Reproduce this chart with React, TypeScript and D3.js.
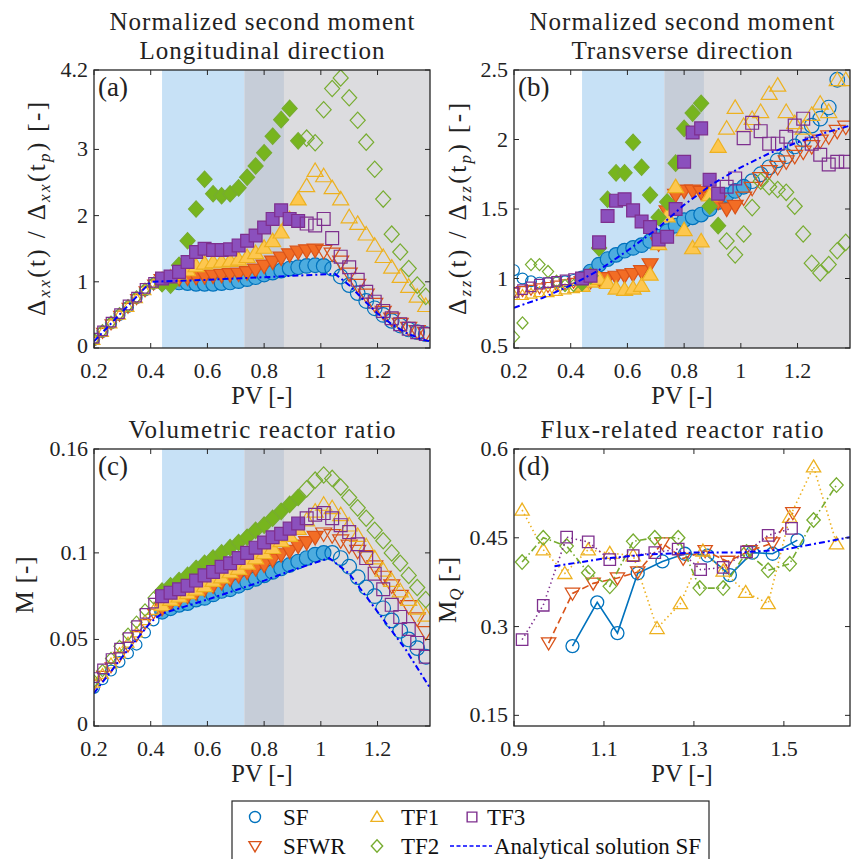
import React from "react";
import * as d3 from "d3";

const FONT = '"Liberation Serif", "Times New Roman", serif';

// pore volumes sampled in panels (a)-(c)
const PV = [0.2, 0.23, 0.26, 0.29, 0.32, 0.35, 0.38, 0.41, 0.44, 0.47, 0.5, 0.53, 0.56, 0.59, 0.62, 0.65, 0.68, 0.71, 0.74, 0.77, 0.8, 0.83, 0.86, 0.89, 0.92, 0.95, 0.98, 1.01, 1.04, 1.07, 1.1, 1.13, 1.16, 1.19, 1.22, 1.25, 1.28, 1.31, 1.34, 1.37];

// (a) longitudinal second moment
const A_SF = [0.12, 0.24, 0.37, 0.5, 0.62, 0.75, 0.87, 0.97, 1.0, 1.0, 0.99, 0.98, 0.97, 0.97, 0.97, 0.98, 0.99, 1.01, 1.04, 1.07, 1.11, 1.14, 1.17, 1.2, 1.22, 1.24, 1.25, 1.24, 1.2, 1.08, 0.95, 0.83, 0.71, 0.6, 0.5, 0.41, 0.34, 0.28, 0.24, 0.21];
const A_SFWR = [0.1, 0.23, 0.36, 0.49, 0.61, 0.74, 0.86, 0.96, 1.02, 1.04, 1.05, 1.06, 1.07, 1.08, 1.09, 1.1, 1.11, 1.12, 1.14, 1.18, 1.24, 1.3, 1.36, 1.41, 1.45, 1.47, 1.48, 1.46, 1.42, 1.3, 1.12, 0.95, 0.8, 0.66, 0.54, 0.44, 0.36, 0.3, 0.25, 0.22];
const A_TF1 = [0.12, 0.24, 0.37, 0.5, 0.62, 0.75, 0.87, 0.97, 1.03, 1.07, 1.12, 1.18, 1.24, 1.28, 1.3, 1.31, 1.32, 1.34, 1.38, 1.44, 1.52, 1.62, 1.75, 1.95, 2.25, 2.45, 2.68, 2.6, 2.42, 2.25, 1.98, 1.88, 1.72, 1.55, 1.38, 1.22, 1.08, 0.93, 0.78, 0.64];
const A_TF2 = [0.13, 0.26, 0.39, 0.52, 0.64, 0.77, 0.89, 0.98, 0.97, 0.95, 1.25, 1.62, 2.1, 2.55, 2.33, 2.3, 2.33, 2.42, 2.58, 2.75, 2.95, 3.2, 3.45, 3.62, 3.13, 3.17, 3.1, 3.6, 3.92, 4.08, 3.78, 3.44, 3.11, 2.7, 2.25, 1.72, 1.45, 1.2, 0.95, 0.78];
const A_TF3 = [0.15, 0.26, 0.39, 0.52, 0.65, 0.77, 0.9, 0.99, 1.05, 1.08, 1.15, 1.3, 1.45, 1.5, 1.48, 1.48, 1.49, 1.55, 1.62, 1.7, 1.82, 1.95, 2.08, 1.95, 1.92, 1.88, 1.85, 1.95, 1.66, 1.38, 1.22, 1.03, 0.85, 0.7, 0.56, 0.45, 0.36, 0.29, 0.24, 0.21];
const A_ANA_X = [0.2, 0.4, 0.6, 0.8, 1.05, 1.1, 1.15, 1.2, 1.25, 1.3, 1.35, 1.385];
const A_ANA_Y = [0.1, 1.0, 1.03, 1.07, 1.12, 0.95, 0.73, 0.52, 0.36, 0.23, 0.14, 0.1];

// (b) transverse second moment
const B_SF = [1.06, 1.0, 0.98, 0.97, 0.97, 0.97, 0.98, 0.99, 1.0, 1.05, 1.1, 1.14, 1.17, 1.2, 1.22, 1.24, 1.27, 1.3, 1.34, 1.38, 1.42, 1.44, 1.46, 1.5, 1.55, 1.6, 1.63, 1.66, 1.7, 1.75, 1.8, 1.85, 1.88, 1.95, 2.0, 2.1, 2.15, 2.23, 2.43, null];
const B_SFWR = [0.9, 0.91, 0.92, 0.93, 0.94, 0.95, 0.96, 0.97, 0.97, 0.98, 0.99, 1.0, 1.01, 1.02, 1.03, 1.05, 1.1, 1.25, 1.48, 1.6, 1.63, 1.63, 1.62, 1.58, 1.55, 1.5, 1.52, 1.58, 1.65, 1.72, 1.77, 1.8, 1.84, 1.88, 1.91, 1.95, 1.99, 2.02, 2.06, 2.09];
const B_TF1 = [0.88, 0.88, 0.89, 0.9, 0.9, 0.91, 0.92, 0.93, 0.95, 0.98, 1.0, 0.97, 0.93, 0.92, 0.93, 0.95, 1.03, 1.25, 1.45, 1.66, 1.35, 1.22, 1.27, 1.6, 1.95, 2.08, 2.23, 2.1, 2.15, 2.2, 2.33, 2.39, 2.2, 2.12, 2.08, 2.18, 2.26, 2.2, 2.43, 2.43];
const B_TF2 = [0.58, 0.68, 1.1, 1.1, 1.05, 0.98, 0.95, 0.95, 0.97, 1.02, 1.22, 1.57, 1.76, 1.76, 1.98, 1.8, 1.6, 1.44, 1.55, 1.83, 2.08, 2.19, 2.26, 1.52, 1.38, 1.27, 1.17, 1.32, 1.51, 1.7, 1.66, 1.64, 1.62, 1.52, 1.32, 1.11, 1.04, 1.1, 1.2, 1.26];
const B_TF3 = [0.9, 0.92, 0.94, 0.96, 0.97, 0.98, 0.99, 1.0, 1.0, 1.02, 1.26, 1.45, 1.56, 1.57, 1.49, 1.41, 1.37, 1.28, 1.3, 1.5, 1.84, 2.05, 2.08, 1.71, 1.61, 1.66, 1.72, 2.01, 2.12, 2.06, 1.97, 1.97, 2.02, 2.1, 2.15, 1.97, 1.89, 1.82, 1.84, 1.84];
const B_ANA_X = [0.2, 0.3, 0.4, 0.5, 0.6, 0.7, 0.8, 0.9, 1.0, 1.1, 1.2, 1.3, 1.385];
const B_ANA_Y = [0.79, 0.86, 0.95, 1.06, 1.2, 1.35, 1.53, 1.68, 1.8, 1.9, 1.98, 2.05, 2.1];

// (c) volumetric reactor ratio
const C_SF = [0.022, 0.027, 0.032, 0.037, 0.042, 0.047, 0.054, 0.061, 0.066, 0.068, 0.07, 0.071, 0.073, 0.074, 0.076, 0.078, 0.079, 0.081, 0.083, 0.085, 0.087, 0.089, 0.091, 0.093, 0.095, 0.097, 0.099, 0.1, 0.1, 0.097, 0.092, 0.086, 0.08, 0.075, 0.068, 0.061, 0.055, 0.05, 0.045, 0.04];
const C_SFWR = [0.024, 0.029, 0.034, 0.04, 0.046, 0.052, 0.059, 0.065, 0.068, 0.071, 0.073, 0.075, 0.077, 0.079, 0.081, 0.083, 0.085, 0.087, 0.089, 0.091, 0.093, 0.096, 0.099, 0.101, 0.104, 0.106, 0.109, 0.111, 0.11, 0.107, 0.104, 0.101, 0.098, 0.092, 0.086, 0.081, 0.075, 0.069, 0.062, 0.054];
const C_TF1 = [0.025, 0.03, 0.036, 0.042, 0.048, 0.054, 0.061, 0.067, 0.07, 0.073, 0.075, 0.077, 0.079, 0.081, 0.084, 0.086, 0.089, 0.091, 0.094, 0.097, 0.1, 0.103, 0.107, 0.11, 0.114, 0.119, 0.124, 0.128, 0.126, 0.122, 0.116, 0.11, 0.104, 0.097, 0.09, 0.084, 0.078, 0.073, 0.068, 0.064];
const C_TF2 = [0.026, 0.032, 0.039, 0.046, 0.053, 0.06, 0.067, 0.074, 0.078, 0.081, 0.084, 0.087, 0.091, 0.094, 0.097, 0.1, 0.103, 0.106, 0.109, 0.113, 0.116, 0.12, 0.124, 0.128, 0.132, 0.137, 0.142, 0.145, 0.143, 0.138, 0.132, 0.126, 0.12, 0.113, 0.107, 0.1, 0.094, 0.087, 0.08, 0.073];
const C_TF3 = [0.028, 0.033, 0.039, 0.045, 0.051, 0.058, 0.065, 0.071, 0.075, 0.077, 0.079, 0.081, 0.084, 0.087, 0.089, 0.092, 0.094, 0.097, 0.1, 0.103, 0.106, 0.109, 0.111, 0.114, 0.117, 0.12, 0.122, 0.123, 0.12, 0.116, 0.112, 0.105, 0.097, 0.088, 0.079, 0.07, 0.063, 0.056, 0.048, 0.04];
const C_ANA_X = [0.2, 0.3, 0.4, 0.44, 0.6, 0.8, 0.9, 1.03, 1.1, 1.2, 1.3, 1.385];
const C_ANA_Y = [0.019, 0.04, 0.06, 0.065, 0.073, 0.084, 0.09, 0.097, 0.088, 0.066, 0.044, 0.022];

// (d) flux-related reactor ratio
const D_SF_X = [1.03, 1.085, 1.13, 1.175, 1.23, 1.28, 1.33, 1.38, 1.43, 1.475, 1.53];
const D_SF_Y = [0.267, 0.341, 0.289, 0.39, 0.41, 0.423, 0.42, 0.387, 0.425, 0.423, 0.446];
const D_SFWR_X = [0.977, 1.03, 1.076, 1.13, 1.175, 1.23, 1.276, 1.325, 1.375, 1.425, 1.475, 1.52];
const D_SFWR_Y = [0.272, 0.356, 0.373, 0.382, 0.392, 0.441, 0.415, 0.428, 0.41, 0.428, 0.441, 0.492];
const D_TF1_X = [0.918, 0.965, 1.013, 1.065, 1.113, 1.165, 1.218, 1.27, 1.32, 1.365, 1.415, 1.465, 1.513, 1.566, 1.617];
const D_TF1_Y = [0.497, 0.43, 0.39, 0.43, 0.424, 0.42, 0.297, 0.339, 0.428, 0.394, 0.358, 0.339, 0.485, 0.57, 0.44];
const D_TF2_X = [0.918, 0.965, 1.017, 1.065, 1.113, 1.165, 1.213, 1.265, 1.313, 1.365, 1.417, 1.465, 1.513, 1.566, 1.617];
const D_TF2_Y = [0.409, 0.45, 0.436, 0.391, 0.368, 0.444, 0.45, 0.45, 0.365, 0.365, 0.426, 0.395, 0.406, 0.48, 0.539];
const D_TF3_X = [0.918, 0.965, 1.017, 1.065, 1.113, 1.165, 1.213, 1.265, 1.315, 1.365, 1.417, 1.465, 1.517];
const D_TF3_Y = [0.278, 0.336, 0.451, 0.443, 0.413, 0.42, 0.425, 0.431, 0.396, 0.4, 0.426, 0.454, 0.466];
const D_ANA_X = [0.99, 1.1, 1.2, 1.3, 1.4, 1.5, 1.647];
const D_ANA_Y = [0.402, 0.415, 0.422, 0.425, 0.425, 0.43, 0.451];

const SERIES = ["SF", "SFWR", "TF1", "TF2", "TF3"];
const EDGE = ["#0072bd", "#d95319", "#edb120", "#77ac30", "#7e2f8e"];
const FACE = ["#4dacdf", "#f26d25", "#fdc74f", "#77b51e", "#8b50bd"];
const SHAPE = ["circle", "triDown", "triUp", "diamond", "square"];
const FILL_END = [1.01, 0.98, 0.92, 0.92, 0.92];
const DASH = ["none", "7,4", "1.5,3", "7,3,1.5,3", "1.5,3"];

const X_TICKS = [0.2, 0.4, 0.6, 0.8, 1, 1.2];
const BANDS = [
  { from: 0.44, to: 0.73, color: "#c7e1f6" },
  { from: 0.73, to: 0.87, color: "#c6cdd8" },
  { from: 0.87, to: 1.385, color: "#dcdcdf" },
];
const ANA_COLOR = "#0000ff";
const ANA_DASH = "6,3,2,3";

function markerPath(shape: string, r: number): string {
  if (shape === "circle") return `M${r},0A${r},${r} 0 1,1 ${-r},0A${r},${r} 0 1,1 ${r},0Z`;
  if (shape === "square") {
    const s = r * 0.88;
    return `M${-s},${-s}H${s}V${s}H${-s}Z`;
  }
  if (shape === "diamond") {
    const d = r * 1.12;
    return `M0,${-d}L${d * 0.92},0L0,${d}L${-d * 0.92},0Z`;
  }
  if (shape === "triUp") return `M0,${-r * 1.05}L${r * 1.1},${r * 0.8}L${-r * 1.1},${r * 0.8}Z`;
  return `M0,${r * 1.05}L${r * 1.1},${-r * 0.8}L${-r * 1.1},${-r * 0.8}Z`;
}

type Box = { x0: number; x1: number; y0: number; y1: number };

function Frame({ box, x, y, xTicks, yTicks }: { box: Box; x: any; y: any; xTicks: number[]; yTicks: number[] }) {
  const t = 5;
  const yMin = y.domain()[0];
  return (
    <g>
      <rect x={box.x0} y={box.y0} width={box.x1 - box.x0} height={box.y1 - box.y0} fill="none" stroke="#262626" strokeWidth={1.3} />
      {xTicks.map((v) => (
        <g key={"x" + v}>
          <line x1={x(v)} x2={x(v)} y1={box.y1} y2={box.y1 - t} stroke="#262626" />
          <line x1={x(v)} x2={x(v)} y1={box.y0} y2={box.y0 + t} stroke="#262626" />
          <text x={x(v)} y={box.y1 + 30} textAnchor="middle" fontSize={22} fill="#222">
            {String(v)}
          </text>
        </g>
      ))}
      {yTicks.map((v) => (
        <g key={"y" + v}>
          <line x1={box.x0} x2={box.x0 + t} y1={y(v)} y2={y(v)} stroke="#262626" />
          <line x1={box.x1} x2={box.x1 - t} y1={y(v)} y2={y(v)} stroke="#262626" />
          <text x={box.x0 - 6} y={y(v)} dy={v === yMin ? "0.22em" : "0.32em"} textAnchor="end" fontSize={22} fill="#222">
            {String(v)}
          </text>
        </g>
      ))}
      <text x={(box.x0 + box.x1) / 2} y={box.y1 + 56} textAnchor="middle" fontSize={24.5} fill="#222">
        PV [-]
      </text>
    </g>
  );
}

function PVPanel({ id, box, yDomain, yTicks, values, anaX, anaY, label }: any) {
  const x = d3.scaleLinear().domain([0.2, 1.385]).range([box.x0, box.x1]);
  const y = d3.scaleLinear().domain(yDomain).range([box.y1, box.y0]);
  const ana = d3
    .line<number>()
    .x((d, i) => x(anaX[i]))
    .y((d) => y(d));
  return (
    <g>
      <defs>
        <clipPath id={"clip-" + id}>
          <rect x={box.x0} y={box.y0} width={box.x1 - box.x0} height={box.y1 - box.y0} />
        </clipPath>
      </defs>
      {BANDS.map((b) => (
        <rect key={b.from} x={x(b.from)} y={box.y0} width={x(b.to) - x(b.from)} height={box.y1 - box.y0} fill={b.color} />
      ))}
      <g clipPath={`url(#clip-${id})`}>
        {values.map((vals: (number | null)[], si: number) => (
          <g key={si}>
            {vals.map((v, j) => {
              if (v == null) return null;
              const pv = PV[j];
              const early = pv < 0.435;
              const filled = !early && pv <= FILL_END[si] + 0.005;
              const r = early ? 5.4 : 7.3;
              return (
                <path
                  key={j}
                  d={markerPath(SHAPE[si], r)}
                  transform={`translate(${x(pv)},${y(v)})`}
                  fill={filled ? FACE[si] : "none"}
                  stroke={EDGE[si]}
                  strokeWidth={1.2}
                />
              );
            })}
          </g>
        ))}
        <path d={ana(anaY) || ""} fill="none" stroke={ANA_COLOR} strokeWidth={2} strokeDasharray={ANA_DASH} />
      </g>
      <Frame box={box} x={x} y={y} xTicks={X_TICKS} yTicks={yTicks} />
      <text x={box.x0 + 4} y={box.y0 + 26} fontSize={27} fill="#222">
        {label}
      </text>
    </g>
  );
}

function FluxPanel() {
  const box: Box = { x0: 514, x1: 850, y0: 449, y1: 726 };
  const x = d3.scaleLinear().domain([0.9, 1.647]).range([box.x0, box.x1]);
  const y = d3.scaleLinear().domain([0.132, 0.6]).range([box.y1, box.y0]);
  const xs = [D_SF_X, D_SFWR_X, D_TF1_X, D_TF2_X, D_TF3_X];
  const ys = [D_SF_Y, D_SFWR_Y, D_TF1_Y, D_TF2_Y, D_TF3_Y];
  const ana = d3
    .line<number>()
    .x((d, i) => x(D_ANA_X[i]))
    .y((d) => y(d));
  return (
    <g>
      <defs>
        <clipPath id="clip-d">
          <rect x={box.x0} y={box.y0} width={box.x1 - box.x0} height={box.y1 - box.y0} />
        </clipPath>
      </defs>
      <g clipPath="url(#clip-d)">
        {ys.map((yy, si) => {
          const line = d3
            .line<number>()
            .x((d, i) => x(xs[si][i]))
            .y((d) => y(d));
          return (
            <g key={si}>
              <path d={line(yy) || ""} fill="none" stroke={EDGE[si]} strokeWidth={1.6} strokeDasharray={DASH[si]} />
              {yy.map((v, j) => (
                <path
                  key={j}
                  d={markerPath(SHAPE[si], 6.5)}
                  transform={`translate(${x(xs[si][j])},${y(v)})`}
                  fill="none"
                  stroke={EDGE[si]}
                  strokeWidth={1.3}
                />
              ))}
            </g>
          );
        })}
        <path d={ana(D_ANA_Y) || ""} fill="none" stroke={ANA_COLOR} strokeWidth={2} strokeDasharray={ANA_DASH} />
      </g>
      <Frame box={box} x={x} y={y} xTicks={[0.9, 1.1, 1.3, 1.5]} yTicks={[0.15, 0.3, 0.45, 0.6]} />
      <text x={box.x0 + 4} y={box.y0 + 26} fontSize={27} fill="#222">
        (d)
      </text>
    </g>
  );
}

function Legend() {
  const rows = [817, 846];
  const items = [
    { si: 0, mx: 255, tx: 283, row: 0 },
    { si: 1, mx: 255, tx: 283, row: 1 },
    { si: 2, mx: 377, tx: 401, row: 0 },
    { si: 3, mx: 377, tx: 401, row: 1 },
    { si: 4, mx: 472, tx: 487, row: 0 },
  ];
  return (
    <g>
      <rect x={232} y={801} width={477} height={80} fill="#fff" stroke="#262626" strokeWidth={1.2} />
      {items.map((it) => (
        <g key={it.si}>
          <path
            d={markerPath(SHAPE[it.si], 5.5)}
            transform={`translate(${it.mx},${rows[it.row]})`}
            fill="none"
            stroke={EDGE[it.si]}
            strokeWidth={1.4}
          />
          <text x={it.tx} y={rows[it.row] + 8} fontSize={23} fill="#111">
            {SERIES[it.si]}
          </text>
        </g>
      ))}
      <line x1={450} x2={492} y1={rows[1]} y2={rows[1]} stroke={ANA_COLOR} strokeWidth={1.5} strokeDasharray="4,2.5" />
      <text x={494} y={rows[1] + 8} fontSize={23} fill="#111">
        Analytical solution SF
      </text>
    </g>
  );
}

export default function App() {
  const boxA: Box = { x0: 94, x1: 430, y0: 70, y1: 348 };
  const boxB: Box = { x0: 514, x1: 850, y0: 70, y1: 348 };
  const boxC: Box = { x0: 94, x1: 430, y0: 449, y1: 726 };
  const sub = { fontStyle: "italic" as const, fontSize: 17 };
  return (
    <svg width={852} height={859} style={{ position: "absolute", left: 0, top: 0, background: "#fff" }} fontFamily={FONT}>
      <PVPanel id="a" box={boxA} yDomain={[0, 4.2]} yTicks={[0, 1, 2, 3, 4.2]} values={[A_SF, A_SFWR, A_TF1, A_TF2, A_TF3]} anaX={A_ANA_X} anaY={A_ANA_Y} label="(a)" />
      <PVPanel id="b" box={boxB} yDomain={[0.5, 2.5]} yTicks={[0.5, 1, 1.5, 2, 2.5]} values={[B_SF, B_SFWR, B_TF1, B_TF2, B_TF3]} anaX={B_ANA_X} anaY={B_ANA_Y} label="(b)" />
      <PVPanel id="c" box={boxC} yDomain={[0, 0.16]} yTicks={[0, 0.05, 0.1, 0.16]} values={[C_SF, C_SFWR, C_TF1, C_TF2, C_TF3]} anaX={C_ANA_X} anaY={C_ANA_Y} label="(c)" />
      <FluxPanel />

      {/* titles */}
      <g fontSize={25} fill="#222" textAnchor="middle">
        <text x={262} y={30} textLength={305} lengthAdjust="spacing">Normalized second moment</text>
        <text x={262} y={59} textLength={245} lengthAdjust="spacing">Longitudinal direction</text>
        <text x={682} y={30} textLength={305} lengthAdjust="spacing">Normalized second moment</text>
        <text x={682} y={59} textLength={221} lengthAdjust="spacing">Transverse direction</text>
        <text x={262} y={438} textLength={267} lengthAdjust="spacing">Volumetric reactor ratio</text>
        <text x={682} y={438} textLength={283} lengthAdjust="spacing">Flux-related reactor ratio</text>
      </g>

      {/* y labels */}
      <g fontSize={25} fill="#222" textAnchor="middle">
        <text transform="translate(45,209) rotate(-90)" textLength={214} lengthAdjust="spacing">
          Δ<tspan {...sub} dy={5}>xx</tspan>
          <tspan dy={-5}>(t) / Δ</tspan>
          <tspan {...sub} dy={5}>xx</tspan>
          <tspan dy={-5}>(t</tspan>
          <tspan {...sub} dy={5}>p</tspan>
          <tspan dy={-5}>) [-]</tspan>
        </text>
        <text transform="translate(466,209) rotate(-90)" textLength={212} lengthAdjust="spacing">
          Δ<tspan {...sub} dy={5}>zz</tspan>
          <tspan dy={-5}>(t) / Δ</tspan>
          <tspan {...sub} dy={5}>zz</tspan>
          <tspan dy={-5}>(t</tspan>
          <tspan {...sub} dy={5}>p</tspan>
          <tspan dy={-5}>) [-]</tspan>
        </text>
        <text transform="translate(33,585) rotate(-90)" textLength={57} lengthAdjust="spacing">
          M [-]
        </text>
        <text transform="translate(456,590) rotate(-90)" textLength={66} lengthAdjust="spacing">
          M<tspan {...sub} dy={5}>Q</tspan>
          <tspan dy={-5}> [-]</tspan>
        </text>
      </g>

      <Legend />
    </svg>
  );
}
